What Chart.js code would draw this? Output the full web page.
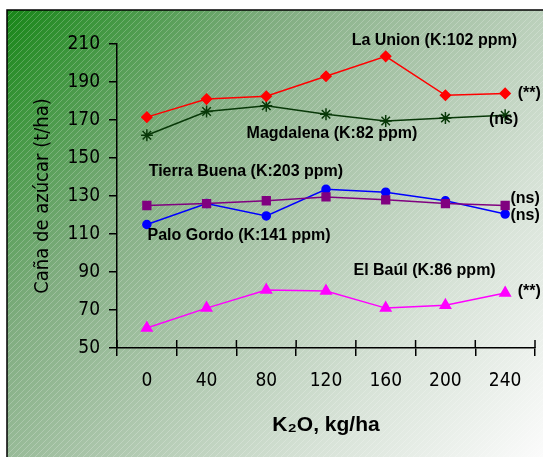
<!DOCTYPE html>
<html>
<head>
<meta charset="utf-8">
<script src="https://cdn.jsdelivr.net/npm/chart.js@4/dist/chart.umd.min.js"></script>
<style>
  body { margin: 0; background: #fff; }
  canvas { display: block; }
</style>
</head>
<body>
<canvas id="caneChart" width="543" height="457"></canvas>
<script>
const doses = ["0", "40", "80", "120", "160", "200", "240"];
const laUnion = [171.5, 181, 182.5, 193, 203.5, 183, 184];
const magdalena = [162, 174.5, 177.5, 173, 169.5, 171, 172.5];
const tierraBuena = [125, 126, 127.5, 129.5, 128, 126, 125];
const paloGordo = [115, 126, 119.5, 133.5, 132, 127.5, 120.5];
const elBaul = [60.5, 71, 80.5, 80, 71, 72.5, 79];
const yMin = 50;
const yMax = 210;
const yStep = 20;

// site labels, anchored in data units (category index, t/ha)
const notes = [
  ["La Union (K:102 ppm)", 3.43, 212],
  ["(**)", 6.21, 183.7],
  ["(ns)", 5.73, 170],
  ["Magdalena (K:82 ppm)", 1.67, 162.6],
  ["Tierra Buena (K:203 ppm)", 0.03, 142.6],
  ["(ns)", 6.09, 128.4],
  ["(ns)", 6.09, 119.5],
  ["Palo Gordo (K:141 ppm)", 0.01, 108.9],
  ["El Baúl (K:86 ppm)", 3.46, 91],
  ["(**)", 6.21, 79.5]
];

const narrow = "'DejaVu Sans Condensed', 'Liberation Sans Narrow', 'Arial Narrow', sans-serif";

function series(label, data, color, style, radius) {
  return {
    label,
    data,
    borderColor: color,
    backgroundColor: color,
    borderWidth: 1.5,
    pointStyle: style,
    pointRadius: radius,
    pointHoverRadius: radius,
    pointBorderColor: color,
    pointBackgroundColor: color,
    pointBorderWidth: 1.5,
    tension: 0
  };
}

const backdrop = {
  id: "backdrop",
  beforeDraw(chart) {
    const ctx = chart.ctx;
    const w = chart.width, h = chart.height;
    ctx.save();
    ctx.fillStyle = "#fff";
    ctx.fillRect(0, 0, w, h);
    const g = ctx.createLinearGradient(7, 10, w, h);
    g.addColorStop(0, "#178517");
    g.addColorStop(0.1, "#3a953a");
    g.addColorStop(0.3, "#80ad80");
    g.addColorStop(0.5, "#aac5aa");
    g.addColorStop(0.75, "#d8e3d8");
    g.addColorStop(1, "#fbfbfb");
    ctx.fillStyle = g;
    ctx.fillRect(7, 10, w, h);
    ctx.beginPath();
    ctx.rect(7, 10, w, h);
    ctx.clip();
    ctx.strokeStyle = "rgba(255,255,255,0.22)";
    ctx.lineWidth = 1;
    for (let s = -h; s < w + h; s += 6) {
      ctx.beginPath();
      ctx.moveTo(s, h);
      ctx.lineTo(s + h, 0);
      ctx.stroke();
    }
    ctx.restore();
    ctx.save();
    ctx.strokeStyle = "#000";
    ctx.lineWidth = 1.5;
    ctx.beginPath();
    ctx.moveTo(7, h);
    ctx.lineTo(7, 10);
    ctx.lineTo(w, 10);
    ctx.stroke();
    ctx.restore();
  },
  afterDraw(chart) {
    const ctx = chart.ctx;
    const x = chart.scales.x, y = chart.scales.y;
    ctx.save();
    // upper half of the category ticks
    ctx.strokeStyle = "#000";
    ctx.lineWidth = 1.5;
    const n = doses.length;
    for (let i = 0; i <= n; i++) {
      const px = x.left + i * x.width / n;
      ctx.beginPath();
      ctx.moveTo(px, y.bottom - 8);
      ctx.lineTo(px, y.bottom);
      ctx.stroke();
    }
    ctx.fillStyle = "#000";
    ctx.font = "bold 16px 'Liberation Sans', Arial, sans-serif";
    ctx.textAlign = "left";
    ctx.textBaseline = "middle";
    notes.forEach(([text, i, v]) => {
      ctx.fillText(text, x.getPixelForValue(i), y.getPixelForValue(v));
    });
    ctx.restore();
  }
};

new Chart(document.getElementById("caneChart"), {
  type: "line",
  data: {
    labels: doses,
    datasets: [
      series("La Union", laUnion, "#ff0000", "rectRot", 5),
      series("Magdalena", magdalena, "#083808", "star", 6),
      series("Tierra Buena", tierraBuena, "#800080", "rect", 5.5),
      series("Palo Gordo", paloGordo, "#0000ff", "circle", 4),
      series("El Baúl", elBaul, "#ff00ff", "triangle", 6)
    ]
  },
  options: {
    responsive: false,
    animation: false,
    devicePixelRatio: 1,
    layout: { padding: { top: 44, right: 8, left: 0, bottom: 0 } },
    plugins: {
      legend: { display: false },
      tooltip: { enabled: false }
    },
    scales: {
      x: {
        type: "category",
        offset: true,
        afterFit(scale) { scale.height = 109; },
        grid: { offset: true, drawOnChartArea: false, tickLength: 8, color: "#000", lineWidth: 1.5 },
        border: { color: "#000", width: 1.5 },
        ticks: { color: "#000", padding: 14, font: { family: narrow, size: 19 } },
        title: {
          display: true,
          text: "K₂O, kg/ha",
          color: "#000",
          padding: { top: 0, bottom: 19 },
          font: { family: "'Liberation Sans', Arial, sans-serif", size: 21, weight: "bold" }
        }
      },
      y: {
        min: yMin,
        max: yMax,
        afterFit(scale) { scale.width = 117; },
        grid: { drawOnChartArea: false, tickLength: 8, color: "#000", lineWidth: 1.5 },
        border: { color: "#000", width: 1.5 },
        ticks: { stepSize: yStep, color: "#000", padding: 9, font: { family: narrow, size: 19 } },
        title: {
          display: true,
          text: "Caña de azúcar (t/ha)",
          color: "#000",
          padding: { top: 31, bottom: 0 },
          font: { family: narrow, size: 20 }
        }
      }
    }
  },
  plugins: [backdrop]
});
</script>
</body>
</html>
